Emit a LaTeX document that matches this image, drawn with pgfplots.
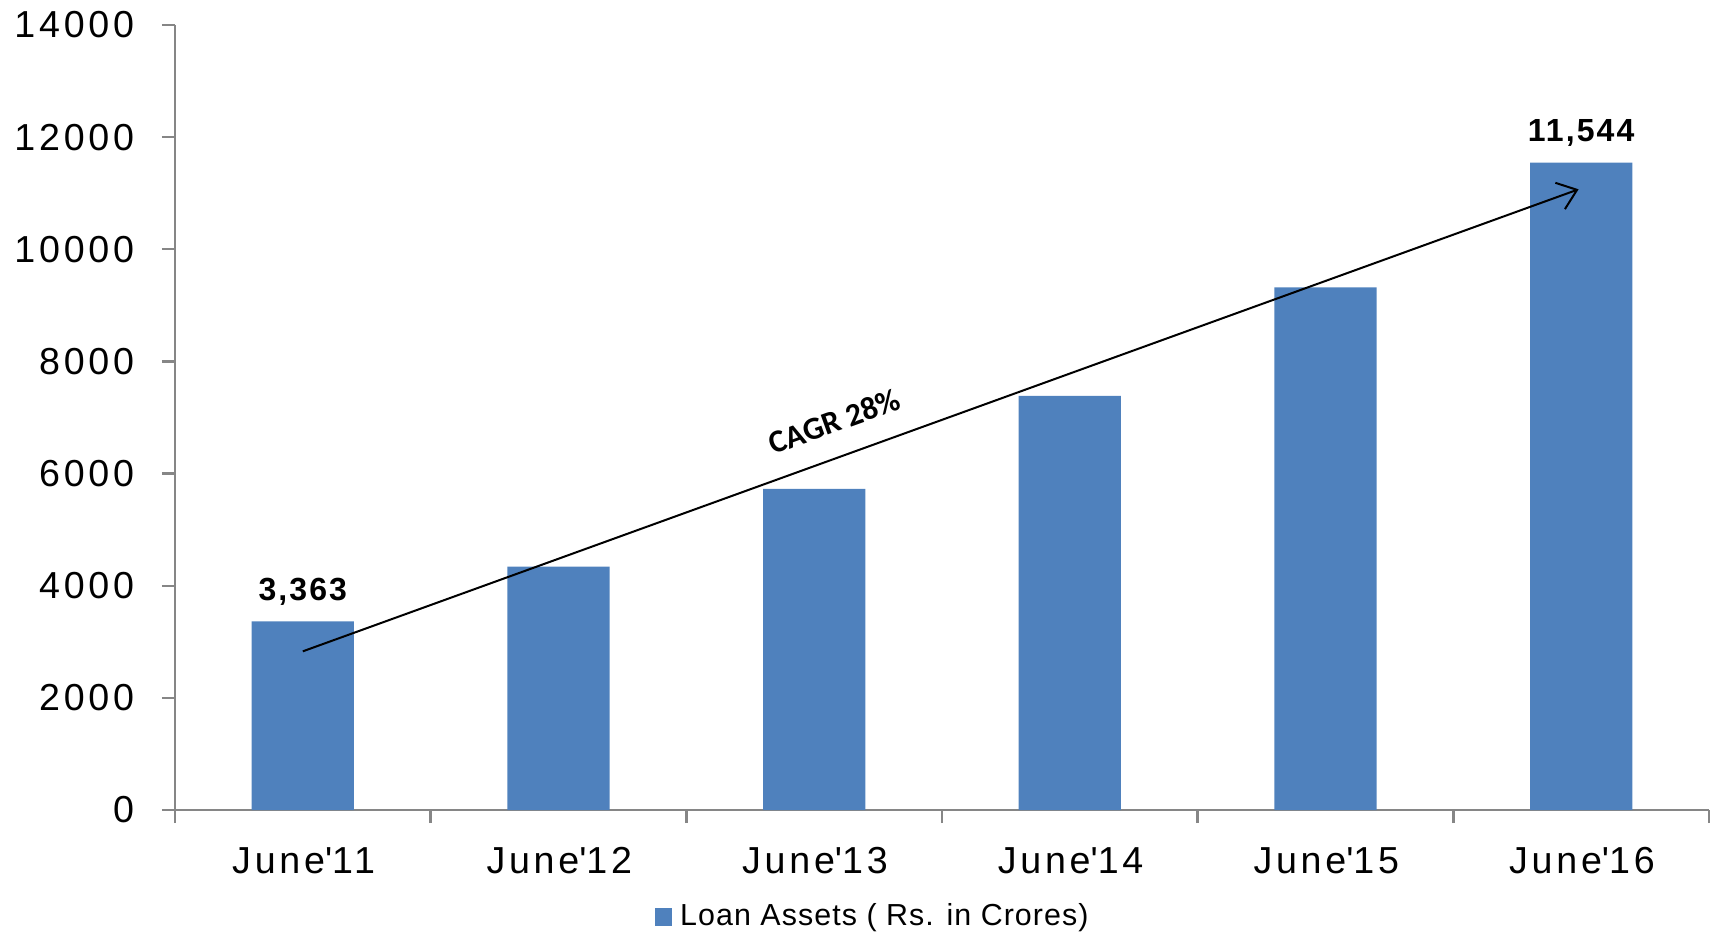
\documentclass[border=0pt]{standalone}
\usepackage{pgfplots}
\pgfplotsset{compat=1.18}
\usepackage{pgfplotstable}
\usepackage{fontspec}
\setmainfont{Liberation Sans}
\newfontfamily\tickfont{Liberation Sans}[LetterSpace=10]
\newfontfamily\legfont{Liberation Sans}[LetterSpace=3.5]
\newfontfamily\labfont{Liberation Sans}[LetterSpace=6.5]
\newfontfamily\carlito{Carlito}
\usetikzlibrary{arrows.meta}
\definecolor{barblue}{HTML}{4F81BD}
\definecolor{axgray}{HTML}{868686}

\pgfplotstableread{
x y lab
0 3363 {3,363}
1 4340 {}
2 5725 {}
3 7385 {}
4 9320 {}
5 11544 {11,544}
}\loandata

\begin{document}
\begin{tikzpicture}
\useasboundingbox (0,0) rectangle (429pt,233.75pt);
\begin{axis}[
  at={(43.75pt,31.25pt)}, anchor=south west,
  width=383.5pt, height=196.25pt, scale only axis,
  xmin=-0.5, xmax=5.5, ymin=0, ymax=14000,
  axis x line*=bottom, axis y line*=left,
  axis line style={-, draw=axgray, line width=0.6pt},
  xtick={0,...,5},
  xticklabels={June\textquotesingle 11,June\textquotesingle 12,June\textquotesingle 13,June\textquotesingle 14,June\textquotesingle 15,June\textquotesingle 16},
  minor xtick={-0.5,0.5,...,5.5},
  major x tick style={draw=none},
  minor tick style={draw=axgray, line width=0.6pt},
  ytick={0,2000,...,14000},
  scaled y ticks=false,
  y tick style={draw=axgray, line width=0.6pt},
  tick align=outside,
  major tick length=3.3pt, minor tick length=3.3pt,
  /pgf/number format/assume math mode=true,
  /pgf/number format/1000 sep={},
  tick label style={font=\tickfont\fontsize{9.4}{11}\selectfont, text=black},
  yticklabel style={xshift=-3.4pt},
  xticklabel style={yshift=-2.5pt, xshift=0.2pt},
  clip=false,
  legend style={at={(0.4567,-0.1363)}, anchor=center, draw=none, fill=none,
    font=\legfont\fontsize{7.6}{9}\selectfont, inner sep=0pt},
  legend image code/.code={\fill[barblue] (0pt,-2.2pt) rectangle (4.4pt,2.2pt);},
  legend cell align=left,
]
\addplot[ybar, bar width=0.4, fill=barblue, draw=none,
  point meta=explicit symbolic,
  nodes near coords,
  every node near coord/.append style={font=\labfont\bfseries\fontsize{8}{9}\selectfont, text=black, yshift=0.5pt}]
  table[x=x, y=y, meta=lab] {\loandata};
\addlegendentry{Loan Assets ( Rs. in Crores)}
\draw[black, line width=0.5pt, -{Straight Barb[length=4.5pt,width=7pt]}] (axis cs:0,2830) -- (axis cs:4.99,11070);
\node[rotate=19.86, font=\carlito\bfseries\fontsize{8}{9}\selectfont] at (axis cs:2.08,6934) {CAGR 28\%};
\end{axis}
\end{tikzpicture}
\end{document}
